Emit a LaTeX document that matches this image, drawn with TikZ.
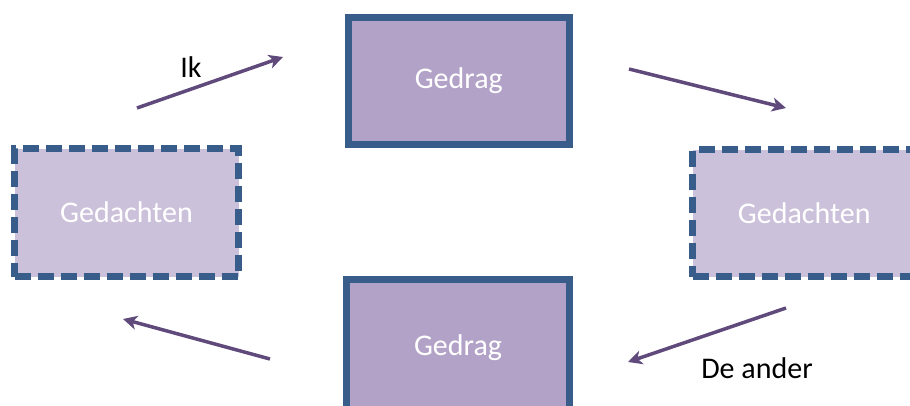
\documentclass[tikz,border=0pt]{standalone}
\usepackage{fontspec}
\setmainfont{Carlito}
\usetikzlibrary{arrows.meta}
\definecolor{boxline}{HTML}{385D8A}
\definecolor{darkfill}{HTML}{B3A2C7}
\definecolor{lightfill}{HTML}{CCC1DA}
\definecolor{arrowcol}{HTML}{604A7B}
\tikzset{
  gedragbox/.style={draw=boxline, fill=darkfill, line width=7pt, inner sep=0pt, text=white,
    font=\fontsize{30}{36}\selectfont},
  gedachtenbox/.style={draw=boxline, fill=lightfill, line width=7pt, inner sep=0pt, text=white,
    dash pattern=on 16pt off 7pt, font=\fontsize{30}{36}\selectfont},
  flowarrow/.style={draw=arrowcol, line width=3.5pt, -{Stealth[length=14pt,width=14pt,inset=4pt]}},
  lbl/.style={text=black, inner sep=0pt, font=\fontsize{30}{36}\selectfont}
}
\begin{document}
\begin{tikzpicture}[x=1pt,y=-1pt]
\useasboundingbox (0,0) rectangle (910,405);
\clip (0,0) rectangle (910,405);
\fill[white] (0,0) rectangle (910,405);
\node[gedragbox, minimum width=220.5pt, minimum height=127pt] (topbox) at (458.75,81) {Gedrag};
\node[gedragbox, minimum width=223pt, minimum height=137pt] (botbox) at (458,348) {Gedrag};
\node[gedachtenbox, minimum width=224pt, minimum height=128pt] (leftbox) at (126.5,212.5) {Gedachten};
\node[gedachtenbox, minimum width=223.5pt, minimum height=127pt] (rightbox) at (804.25,213) {Gedachten};
\coordinate (a1s) at (137,108);
\coordinate (a1e) at (283,57);
\coordinate (a2s) at (629,69);
\coordinate (a2e) at (786,108);
\coordinate (a3s) at (786,308);
\coordinate (a3e) at (628,362);
\coordinate (a4s) at (270,359);
\coordinate (a4e) at (123,319);
\draw[flowarrow] (a1s) -- (a1e);
\draw[flowarrow] (a2s) -- (a2e);
\draw[flowarrow] (a3s) -- (a3e);
\draw[flowarrow] (a4s) -- (a4e);
\node[lbl] (ik) at (191,67) {Ik};
\node[lbl] (deander) at (757,368) {De ander};
\end{tikzpicture}
\end{document}
